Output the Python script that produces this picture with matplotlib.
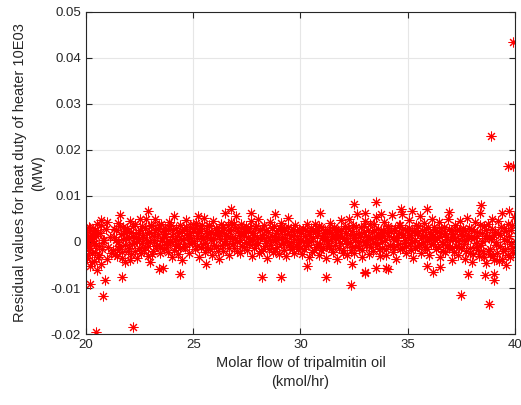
import matplotlib
matplotlib.use("Agg")
import matplotlib.pyplot as plt
import numpy as np

plt.rcParams['font.family'] = ['Liberation Sans', 'DejaVu Sans']

# Dense band of residuals: molar flow (kmol/hr) and residual (x 1e-3 MW)
band_flow = [
    20.02, 20.05, 20.09, 20.13, 20.17, 20.21, 20.26, 20.30, 20.34, 20.39, 20.43, 20.47, 20.52, 20.58, 20.63, 20.69, 20.75, 20.86, 20.99, 21.12,
    21.27, 21.33, 21.38, 21.45, 21.51, 21.56, 21.63, 21.69, 21.74, 21.80, 21.87, 21.92, 21.99, 22.05, 22.11, 22.17, 22.24, 22.30, 22.36, 22.43,
    22.49, 22.55, 22.62, 22.68, 22.74, 22.80, 22.87, 22.93, 22.99, 23.05, 23.12, 23.18, 23.24, 23.30, 23.37, 23.43, 23.49, 23.56, 23.62, 23.68,
    23.74, 23.81, 23.87, 23.93, 23.99, 24.06, 24.12, 24.18, 24.25, 24.31, 24.37, 24.43, 24.50, 24.56, 24.62, 24.68, 24.75, 24.81, 24.87, 24.94,
    25.00, 25.06, 25.13, 25.19, 25.25, 25.31, 25.38, 25.44, 25.50, 25.57, 25.63, 25.69, 25.75, 25.82, 25.88, 25.94, 26.00, 26.07, 26.13, 26.19,
    26.25, 26.31, 26.38, 26.44, 26.50, 26.56, 26.63, 26.69, 26.75, 26.81, 26.88, 26.94, 27.00, 27.06, 27.13, 27.19, 27.25, 27.32, 27.38, 27.44,
    27.50, 27.57, 27.63, 27.69, 27.75, 27.82, 27.88, 27.94, 28.00, 28.07, 28.13, 28.19, 28.25, 28.32, 28.38, 28.44, 28.50, 28.57, 28.63, 28.69,
    28.75, 28.82, 28.88, 28.94, 29.00, 29.07, 29.13, 29.19, 29.25, 29.32, 29.38, 29.44, 29.50, 29.57, 29.63, 29.69, 29.75, 29.82, 29.88, 29.94,
    30.00, 30.07, 30.13, 30.19, 30.25, 30.32, 30.38, 30.44, 30.50, 30.57, 30.63, 30.69, 30.75, 30.82, 30.88, 30.94, 31.00, 31.07, 31.13, 31.19,
    31.25, 31.32, 31.38, 31.44, 31.50, 31.57, 31.63, 31.69, 31.75, 31.82, 31.88, 31.94, 32.00, 32.07, 32.13, 32.19, 32.25, 32.32, 32.38, 32.44,
    32.50, 32.57, 32.63, 32.69, 32.75, 32.82, 32.88, 32.94, 33.00, 33.07, 33.13, 33.19, 33.25, 33.32, 33.38, 33.44, 33.50, 33.57, 33.63, 33.69,
    33.75, 33.82, 33.88, 33.94, 34.00, 34.07, 34.13, 34.19, 34.25, 34.32, 34.38, 34.44, 34.50, 34.57, 34.63, 34.69, 34.75, 34.82, 34.88, 34.94,
    35.00, 35.07, 35.13, 35.19, 35.25, 35.32, 35.38, 35.44, 35.50, 35.57, 35.63, 35.69, 35.75, 35.82, 35.88, 35.94, 36.00, 36.07, 36.13, 36.19,
    36.25, 36.32, 36.38, 36.44, 36.50, 36.57, 36.63, 36.69, 36.75, 36.82, 36.88, 36.94, 37.00, 37.07, 37.13, 37.19, 37.25, 37.32, 37.38, 37.44,
    37.50, 37.57, 37.63, 37.69, 37.75, 37.82, 37.88, 37.94, 38.00, 38.07, 38.13, 38.19, 38.25, 38.32, 38.38, 38.44, 38.50, 38.57, 38.63, 38.69,
    38.75, 38.82, 38.88, 38.94, 39.00, 39.07, 39.13, 39.19, 39.25, 39.32, 39.38, 39.44, 39.50, 39.57, 39.63, 39.69, 39.75, 39.82, 39.88, 39.97,
]
band_resid_milli = [
    2.1, -3.5, 0.8, -1.2, 3.0, -5.2, 1.5, -2.4, 0.2, -4.1, 2.6, -0.7, -6.0, 1.9, -2.9, 3.6, -1.6, 0.5, -3.8, 1.1,
    -1.8, 2.9, 0.4, -3.1, 4.2, -0.9, 1.7, -2.2, 3.3, -4.4, 0.9, 2.4, -1.3, 4.6, -2.7, 1.2, -0.3, 3.9, -3.4, 2.0,
    0.7, -2.5, 3.4, 1.6, -1.1, 4.9, -3.0, 2.2, 0.1, 3.8, -1.9, 1.3, 5.1, -0.6, 2.8, -2.3, 4.0, 0.9, -1.5, 3.1,
    1.8, -2.1, 4.4, 0.3, -3.2, 2.6, 5.6, -0.8, 1.4, -2.6, 3.7, 0.6, -4.0, 2.9, -1.0, 4.8, 1.0, -2.4, 3.2, -0.2,
    2.3, -1.6, 4.1, 0.8, -3.3, 3.0, 1.2, -0.5, 5.3, -2.2, 2.0, -1.2, 3.6, 0.4, -2.8, 4.5, 1.7, -0.9, 2.7, -3.6,
    0.6, 3.9, -2.0, 1.9, 6.3, -0.4, 2.5, -2.9, 4.3, 0.9, -1.4, 3.3, 5.6, -0.1, 1.6, -2.5, 4.0, 2.1, -1.0, 3.5,
    -1.7, 2.4, 0.2, 4.6, -3.0, 1.5, 3.1, -0.7, 5.0, -2.3, 0.8, 2.9, -1.5, 3.8, 0.3, -3.4, 2.2, 4.3, -0.6, 1.3,
    3.4, -1.9, 0.7, 2.6, -2.7, 4.2, 1.0, -0.3, 3.0, -3.1, 1.8, 5.2, -1.1, 2.3, 0.0, -2.4, 3.6, 1.4, -1.6, 2.8,
    0.5, -2.6, 2.9, 1.2, -0.8, 3.9, -3.3, 1.7, 0.2, 2.5, -1.8, 4.0, -0.4, 1.9, -2.9, 3.2, 0.8, -1.3, 2.6, -3.5,
    2.0, -0.9, 4.1, 0.6, -2.2, 3.0, 1.4, -3.6, 2.4, -0.2, 4.7, 1.1, -1.7, 3.5, 0.3, -2.8, 5.0, 1.6, -1.0, 3.7,
    -2.4, 1.8, 6.0, 0.1, -1.4, 3.3, -3.2, 2.2, 4.5, -0.7, 1.0, -2.6, 3.9, 0.7, -1.9, 2.7, 5.5, -0.5, 1.5, -3.1,
    2.1, -1.2, 4.4, 0.4, -2.9, 3.1, 1.3, -0.6, 5.8, -2.1, 2.6, -3.8, 0.9, 3.6, -1.5, 1.9, 6.0, -0.3, 2.8, -2.5,
    1.0, 4.8, -1.8, 2.4, -3.4, 0.5, 3.7, -0.8, 2.0, 5.6, -2.4, 1.2, 4.1, -1.1, 0.3, 3.3, -2.9, 1.8, 5.0, -0.4,
    2.7, -1.6, 0.8, 4.4, -3.2, 1.9, -0.5, 3.2, -2.2, 0.6, 5.1, -1.2, 2.3, -4.0, 1.1, 3.8, -0.9, -2.8, 2.5, 4.6,
    -1.4, 3.0, 0.4, -3.6, 5.2, 1.5, -2.3, 2.8, -4.4, 0.9, 4.3, -1.0, 2.1, -3.0, 6.2, 0.2, -2.0, 3.5, -4.6, 1.3,
    3.9, -2.7, 0.7, 5.0, -3.9, 2.2, -0.6, 4.6, -4.2, 1.6, 6.4, -2.0, 3.1, -5.0, 0.3, 4.0, -3.3, 2.5, -1.4, 5.5,
]

# Second pass through the band core
core_flow = [
    20.04, 20.07, 20.11, 20.15, 20.19, 20.24, 20.28, 20.32, 20.37, 20.41, 20.45, 20.50, 20.55, 20.61, 20.66, 20.72, 20.80, 20.92, 21.05, 21.19,
    21.30, 21.36, 21.42, 21.48, 21.53, 21.60, 21.66, 21.71, 21.77, 21.84, 21.90, 21.95, 22.02, 22.08, 22.14, 22.21, 22.27, 22.33, 22.40, 22.46,
    22.52, 22.59, 22.65, 22.71, 22.77, 22.84, 22.90, 22.96, 23.02, 23.09, 23.15, 23.21, 23.27, 23.34, 23.40, 23.46, 23.53, 23.59, 23.65, 23.71,
    23.77, 23.84, 23.90, 23.96, 24.03, 24.09, 24.15, 24.22, 24.28, 24.34, 24.40, 24.47, 24.53, 24.59, 24.65, 24.72, 24.78, 24.84, 24.91, 24.97,
    25.03, 25.10, 25.16, 25.22, 25.28, 25.35, 25.41, 25.47, 25.54, 25.60, 25.66, 25.72, 25.79, 25.85, 25.91, 25.97, 26.04, 26.10, 26.16, 26.22,
    26.28, 26.35, 26.41, 26.47, 26.53, 26.60, 26.66, 26.72, 26.78, 26.85, 26.91, 26.97, 27.03, 27.10, 27.16, 27.22, 27.29, 27.35, 27.41, 27.47,
    27.54, 27.60, 27.66, 27.72, 27.79, 27.85, 27.91, 27.97, 28.04, 28.10, 28.16, 28.22, 28.29, 28.35, 28.41, 28.47, 28.54, 28.60, 28.66, 28.72,
    28.79, 28.85, 28.91, 28.97, 29.04, 29.10, 29.16, 29.22, 29.29, 29.35, 29.41, 29.47, 29.54, 29.60, 29.66, 29.72, 29.79, 29.85, 29.91, 29.97,
    30.04, 30.10, 30.16, 30.22, 30.29, 30.35, 30.41, 30.47, 30.54, 30.60, 30.66, 30.72, 30.79, 30.85, 30.91, 30.97, 31.04, 31.10, 31.16, 31.22,
    31.29, 31.35, 31.41, 31.47, 31.54, 31.60, 31.66, 31.72, 31.79, 31.85, 31.91, 31.97, 32.04, 32.10, 32.16, 32.22, 32.29, 32.35, 32.41, 32.47,
    32.54, 32.60, 32.66, 32.72, 32.79, 32.85, 32.91, 32.97, 33.04, 33.10, 33.16, 33.22, 33.29, 33.35, 33.41, 33.47, 33.54, 33.60, 33.66, 33.72,
    33.79, 33.85, 33.91, 33.97, 34.04, 34.10, 34.16, 34.22, 34.29, 34.35, 34.41, 34.47, 34.54, 34.60, 34.66, 34.72, 34.79, 34.85, 34.91, 34.97,
    35.04, 35.10, 35.16, 35.22, 35.29, 35.35, 35.41, 35.47, 35.54, 35.60, 35.66, 35.72, 35.79, 35.85, 35.91, 35.97, 36.04, 36.10, 36.16, 36.22,
    36.29, 36.35, 36.41, 36.47, 36.54, 36.60, 36.66, 36.72, 36.79, 36.85, 36.91, 36.97, 37.04, 37.10, 37.16, 37.22, 37.29, 37.35, 37.41, 37.47,
    37.54, 37.60, 37.66, 37.72, 37.79, 37.85, 37.91, 37.97, 38.04, 38.10, 38.16, 38.22, 38.29, 38.35, 38.41, 38.47, 38.54, 38.60, 38.66, 38.72,
    38.79, 38.85, 38.91, 38.97, 39.04, 39.10, 39.16, 39.22, 39.29, 39.35, 39.41, 39.47, 39.54, 39.60, 39.66, 39.72, 39.79, 39.85, 39.92, 39.99,
]
core_resid_milli = [
    -0.5, 1.6, -2.8, 3.2, -1.4, 0.9, -4.3, 2.4, -0.2, -2.1, 1.2, 3.9, -3.2, -0.9, 2.0, -4.8, 0.4, 2.8, -1.1, -2.5,
    1.1, -2.6, 2.6, 0.0, -1.5, 3.5, -3.5, 0.6, 1.9, -0.6, 3.0, -2.0, 0.8, 2.1, -0.4, 3.4, -1.9, 1.0, 0.3, -1.2,
    2.5, -0.3, 1.1, -1.7, 3.0, 0.5, -0.9, 2.0, 3.5, -2.6, 0.4, 2.6, -0.8, 1.7, 3.6, -1.2, 0.2, 2.4, 1.0, -0.4,
    -0.7, 2.8, 0.1, 3.6, 1.3, -1.8, 0.7, 3.1, -0.4, 1.9, -1.4, 2.3, 0.5, -0.9, 3.3, 1.6, -0.3, 2.0, 0.9, 3.9,
    0.3, 3.1, -0.8, 1.9, 2.8, -1.1, 3.8, 0.6, -0.2, 2.4, 1.1, 3.5, -1.5, 2.2, 0.9, -0.6, 3.0, 1.5, -1.9, 2.1,
    2.2, -0.7, 3.2, 0.2, 1.3, 3.6, -1.2, 1.0, 2.6, -0.3, 3.9, 0.8, -2.0, 2.3, 0.4, 3.0, -0.9, 1.2, 2.8, 0.0,
    1.0, -0.5, 3.0, 0.6, 2.0, -1.3, 3.4, 1.1, -0.2, 2.7, -2.0, 1.6, 0.8, -0.9, 2.5, 1.0, -1.6, 0.4, 3.1, -2.2,
    0.6, 2.0, -1.0, 1.1, 3.1, -0.5, 2.4, -1.8, 0.9, 0.3, 3.3, -0.7, 1.6, -1.5, 2.9, 0.7, -0.8, 2.3, 0.1, -1.2,
    2.0, 0.2, -1.6, 2.7, 0.5, -0.6, 1.8, 3.0, -2.1, 0.8, 2.4, -1.0, 1.3, 3.4, -0.4, -1.8, 2.0, 0.4, 1.1, -0.8,
    0.2, 2.6, -1.5, 1.7, 3.3, -0.6, 0.8, 2.2, -1.2, 1.4, 2.9, -2.4, 0.6, 1.9, -0.5, 3.0, 0.0, -1.8, 2.4, 0.9,
    0.5, 3.2, -0.8, 2.0, 1.0, -1.8, 0.3, 3.5, 1.4, -0.5, 2.6, 0.6, -1.1, 2.2, 3.9, -0.2, 1.2, 2.9, -1.6, 0.8,
    0.0, 2.7, 1.4, -1.5, 1.9, 3.4, -0.8, 2.3, 0.6, -1.0, 3.0, 1.1, -0.4, 2.0, 3.8, -1.3, 1.6, 0.4, -0.9, 2.5,
    3.0, -0.2, 1.5, 0.1, 2.3, -1.4, 1.9, 3.4, -0.7, 0.8, 2.6, -0.1, 1.4, 2.9, -1.6, 0.6, 2.1, -0.5, 1.0, 3.2,
    0.4, 2.3, -1.1, 1.4, 3.0, 0.0, -1.9, 2.0, 1.1, -0.6, 2.8, 0.5, -1.4, 1.7, -2.2, 0.9, 2.6, 0.2, -1.0, 1.8,
    1.2, -0.5, 2.4, -2.0, 0.7, 3.0, -1.2, 1.1, -2.7, 2.3, -0.3, 1.4, -1.7, 3.6, -0.6, 2.0, -3.2, 0.8, 2.6, -1.9,
    0.9, -1.5, 2.8, -3.0, 1.6, 0.0, -2.5, 2.0, -0.8, 3.3, -3.6, 0.7, -1.6, 2.4, -2.8, 1.3, -0.4, 3.8, -2.3, 0.2,
]

# Scattered outliers
outlier_flow = [
    20.45, 22.20, 20.20, 20.90, 20.80, 21.70, 22.05, 23.00, 23.40, 23.60,
    24.40, 25.60, 21.60, 22.90, 20.70, 21.00, 22.50, 25.20, 26.76, 28.20,
    29.10, 31.20, 32.35, 30.30, 33.00, 32.40, 39.90, 38.90, 39.65, 39.90,
    33.50, 38.40, 34.70, 35.90, 35.20, 33.00, 33.75, 36.90, 39.70, 37.50,
    38.80, 37.80, 38.60, 39.00, 39.00, 33.00, 33.50, 34.00, 34.10, 35.90,
    36.20, 36.50, 32.50, 28.80, 30.90, 27.70,
]
outlier_resid_milli = [
    -19.6, -18.5, -9.1, -8.3, -11.7, -7.6, -3.9, -4.3, -5.9, -5.7,
    -7.0, -4.8, 5.9, 6.8, 4.8, 4.3, 5.0, 5.7, 7.2, -7.6,
    -7.6, -7.6, -9.3, -5.2, -6.5, -4.8, 43.5, 23.0, 16.5, 16.5,
    8.7, 8.0, 7.2, 7.2, 6.7, 6.3, 6.1, 6.5, 6.7, -11.5,
    -13.5, -7.0, -7.2, -7.0, -8.3, -6.7, -5.7, -5.7, -5.9, -5.2,
    -6.5, -5.4, 8.3, 6.0, 6.2, 6.4,
]

x_ticks = [20, 25, 30, 35, 40]
y_ticks = [-0.02, -0.01, 0, 0.01, 0.02, 0.03, 0.04, 0.05]
y_tick_labels = ['-0.02', '-0.01', '0', '0.01', '0.02', '0.03', '0.04', '0.05']

flow = np.array(band_flow + core_flow + outlier_flow)
resid = np.array(band_resid_milli + core_resid_milli + outlier_resid_milli) * 1e-3

fig = plt.figure(figsize=(5.21, 4.05), dpi=100)
ax = fig.add_axes([0.165, 0.1753, 0.8235, 0.7951])
ax.plot(flow, resid, linestyle='none', marker=(8, 2, 0), color='#ff0000',
        markersize=7, markeredgewidth=0.75)

ax.set_xlim(20, 40)
ax.set_ylim(-0.02, 0.05)
ax.set_xticks(x_ticks)
ax.set_yticks(y_ticks)
ax.set_yticklabels(y_tick_labels)
ax.grid(True, color='#e6e6e6', linewidth=0.8)
ax.set_axisbelow(True)
dark = '#262626'
for s in ax.spines.values():
    s.set_color(dark)
    s.set_linewidth(0.8)
ax.tick_params(direction='in', top=True, right=True, length=4, width=0.8,
               colors=dark, labelsize=9.5, labelcolor=dark)
ax.set_xlabel('Molar flow of tripalmitin oil\n(kmol/hr)', fontsize=10.5, color=dark,
              linespacing=1.4)
ax.set_ylabel('Residual values for heat duty of heater 10E03\n(MW)', fontsize=10.5,
              color=dark, linespacing=1.4)

fig.savefig('out.png', dpi=100)
